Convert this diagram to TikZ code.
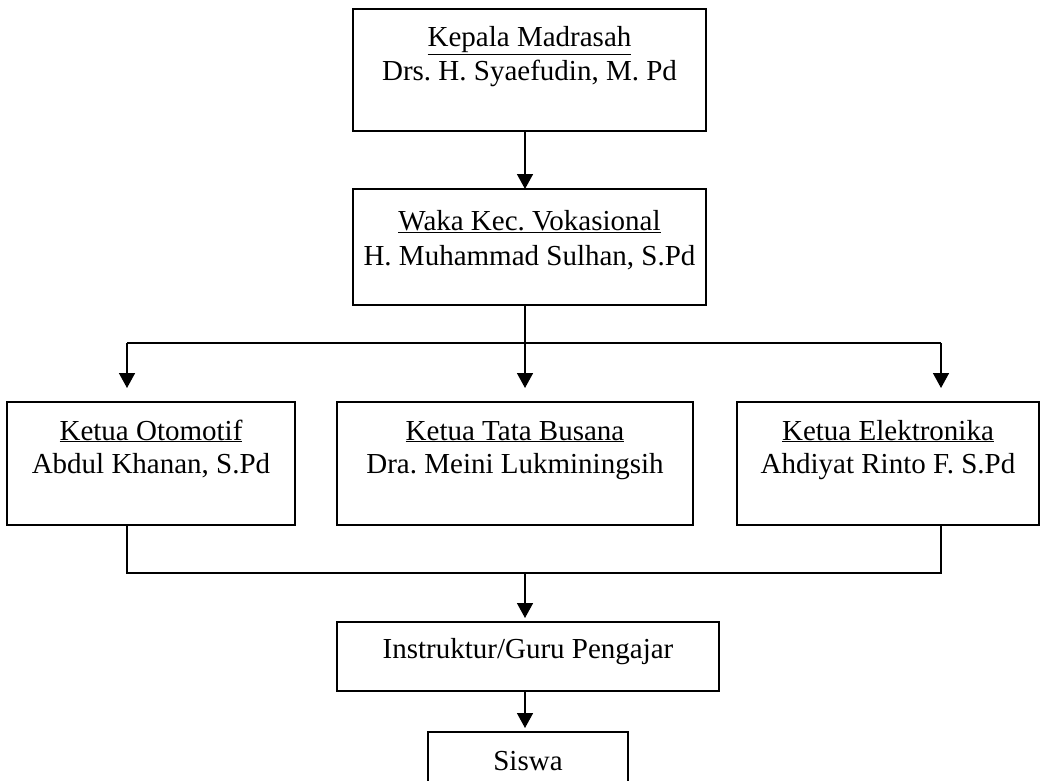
\documentclass[tikz,border=0pt]{standalone}
\usepackage{fontspec}
\setmainfont{Liberation Serif}
\usetikzlibrary{arrows.meta}
\frenchspacing
\tikzset{
  box/.style={draw=black, line width=1.6pt, inner sep=0pt, outer sep=0pt, fill=white},
  txt/.style={anchor=base, inner sep=0pt, font=\fontsize{29}{34}\selectfont},
  conn/.style={draw=black, line width=1.6pt},
  arr/.style={conn, -{Triangle[width=16pt,length=15pt]}},
}
\begin{document}
\begin{tikzpicture}[x=1pt,y=-1pt]
\useasboundingbox (0,0) rectangle (1041,781);
\clip (0,0) rectangle (1041,781);
\fill[white] (0,0) rectangle (1041,781);

% boxes
\node[box, minimum width=353pt, minimum height=122pt] (b1) at (529.5,70) {};
\node[box, minimum width=353pt, minimum height=116pt] (b2) at (529.5,247) {};
\node[box, minimum width=288pt, minimum height=123pt] (b3) at (151,463.5) {};
\node[box, minimum width=356pt, minimum height=123pt] (b4) at (515,463.5) {};
\node[box, minimum width=302pt, minimum height=123pt] (b5) at (888,463.5) {};
\node[box, minimum width=382pt, minimum height=69pt] (b6) at (528,656.5) {};
\node[box, minimum width=200pt, minimum height=70pt] (b7) at (528,767) {};

% texts
\node[txt] (t1a) at ([yshift=-38pt]b1.north) {\underline{Kepala Madrasah}};
\node[txt] (t1b) at ([yshift=-72pt]b1.north) {Drs. H. Syaefudin, M. Pd};
\node[txt] (t2a) at ([yshift=-41pt]b2.north) {\underline{Waka Kec. Vokasional}};
\node[txt] (t2b) at ([yshift=-76pt]b2.north) {H. Muhammad Sulhan, S.Pd};
\node[txt] (t3a) at ([yshift=-38pt]b3.north) {\underline{Ketua Otomotif}};
\node[txt] (t3b) at ([yshift=-71pt]b3.north) {Abdul Khanan, S.Pd};
\node[txt] (t4a) at ([yshift=-38pt]b4.north) {\underline{Ketua Tata Busana}};
\node[txt] (t4b) at ([yshift=-71pt]b4.north) {Dra. Meini Lukminingsih};
\node[txt] (t5a) at ([yshift=-38pt]b5.north) {\underline{Ketua Elektronika}};
\node[txt] (t5b) at ([yshift=-71pt]b5.north) {Ahdiyat Rinto F. S.Pd};
\node[txt] (t6) at ([yshift=-36pt]b6.north) {Instruktur/Guru Pengajar};
\node[txt] (t7) at ([yshift=-38pt]b7.north) {Siswa};

% connector coordinates
\coordinate (spine) at (525,0);
\coordinate (hl) at (127,343);
\coordinate (hm) at (525,343);
\coordinate (hr) at (941,343);
\coordinate (ll) at (127,573);
\coordinate (lm) at (525,573);
\coordinate (lr) at (941,573);

% connectors
\draw[arr] (b1.south -| spine) -- (b2.north -| spine);
\draw[conn] (b2.south -| spine) -- (hm);
\draw[conn] (hl) -- (hr);
\draw[arr, shorten >=14pt] (hl) -- (b3.north -| hl);
\draw[arr, shorten >=14pt] (hm) -- (b4.north -| hm);
\draw[arr, shorten >=14pt] (hr) -- (b5.north -| hr);
\draw[conn] (b3.south -| ll) -- (ll) -- (lr) -- (b5.south -| lr);
\draw[arr, shorten >=4pt] (lm) -- (b6.north -| lm);
\draw[arr, shorten >=4pt] (b6.south -| spine) -- (b7.north -| spine);
\end{tikzpicture}
\end{document}
